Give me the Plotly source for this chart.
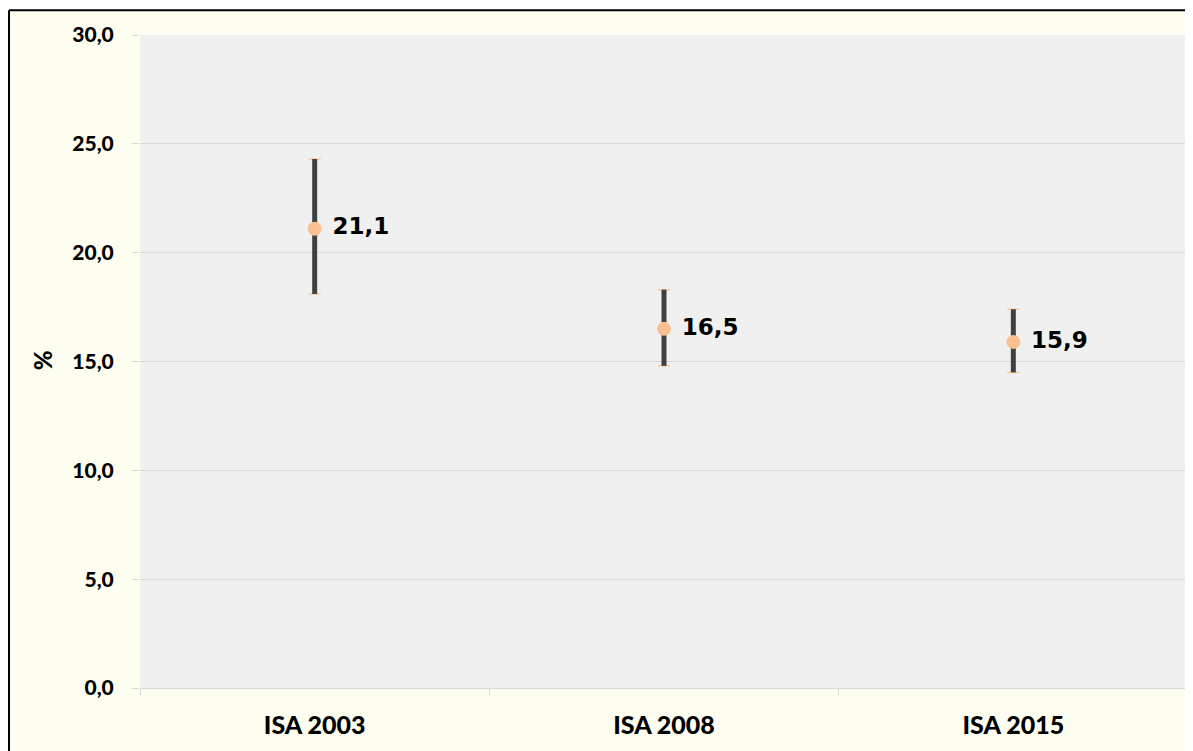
import plotly.graph_objects as go

categories = ["ISA 2003", "ISA 2008", "ISA 2015"]
values = [21.1, 16.5, 15.9]
upper = [24.3, 18.3, 17.4]
lower = [18.1, 14.8, 14.5]
labels = ["21,1", "16,5", "15,9"]
y_ticks = [0, 5, 10, 15, 20, 25, 30]

err_plus = [u - v for u, v in zip(upper, values)]
err_minus = [v - l for v, l in zip(values, lower)]

fig = go.Figure()
# orange caps
fig.add_trace(go.Scatter(
    x=categories, y=values, mode="markers",
    marker=dict(size=1, color="rgba(0,0,0,0)"),
    error_y=dict(type="data", symmetric=False, array=err_plus, arrayminus=err_minus,
                 color="#F8C89A", thickness=1.5, width=6),
    hoverinfo="skip", showlegend=False))
# dark stems
fig.add_trace(go.Scatter(
    x=categories, y=values, mode="markers",
    marker=dict(size=1, color="rgba(0,0,0,0)"),
    error_y=dict(type="data", symmetric=False, array=err_plus, arrayminus=err_minus,
                 color="#404040", thickness=5, width=0),
    hoverinfo="skip", showlegend=False))
# points + labels
fig.add_trace(go.Scatter(
    x=categories, y=values, mode="markers+text",
    marker=dict(size=14, color="#FAC090"),
    text=labels, texttemplate=" %{text}", textposition="middle right",
    textfont=dict(family="DejaVu Sans", size=23, color="#000000", weight="bold"),
    showlegend=False))

fig.update_layout(
    width=1185, height=743,
    margin=dict(l=132, r=5, t=27, b=63),
    paper_bgcolor="#FEFEF0",
    plot_bgcolor="#F0F0F0",
    separators=",.",
    font=dict(family="Lato", color="#000000"),
    shapes=[
        dict(type="rect", xref="paper", yref="paper", x0=-0.2, x1=1.1, y0=1.038, y1=1.2,
             fillcolor="white", line=dict(width=0), layer="above"),
        dict(type="line", xref="paper", yref="paper", x0=-0.1250, x1=1.1, y0=1.038, y1=1.038,
             line=dict(color="black", width=2), layer="above"),
        dict(type="line", xref="paper", yref="paper", x0=-0.1250, x1=-0.1250, y0=-0.2, y1=1.038,
             line=dict(color="black", width=2), layer="above"),
    ],
    annotations=[
        dict(text="%", xref="paper", yref="paper", x=-0.0935, y=0.502,
             textangle=-90, showarrow=False,
             font=dict(family="Lato", size=24, color="black", weight=900),
             xanchor="center", yanchor="middle"),
    ],
)

fig.update_xaxes(
    type="category", tickson="boundaries", showgrid=False, range=[-0.5, 2.5],
    showline=True, linecolor="#D9D9D9", linewidth=1,
    ticks="outside", ticklen=6, tickcolor="#D9D9D9",
    tickfont=dict(family="Lato", size=25, color="black", weight=900),
    ticklabelstandoff=15,
    zeroline=False,
)
fig.update_yaxes(
    range=[0, 30], tickvals=y_ticks, tickformat=".1f",
    showgrid=True, gridcolor="#D9D9D9", gridwidth=1,
    ticks="outside", ticklen=7, tickcolor="#D9D9D9",
    tickfont=dict(family="Lato", size=21, color="black", weight=900),
    ticklabelstandoff=14,
    zeroline=False, showline=False,
)

fig.write_html("out.html")
